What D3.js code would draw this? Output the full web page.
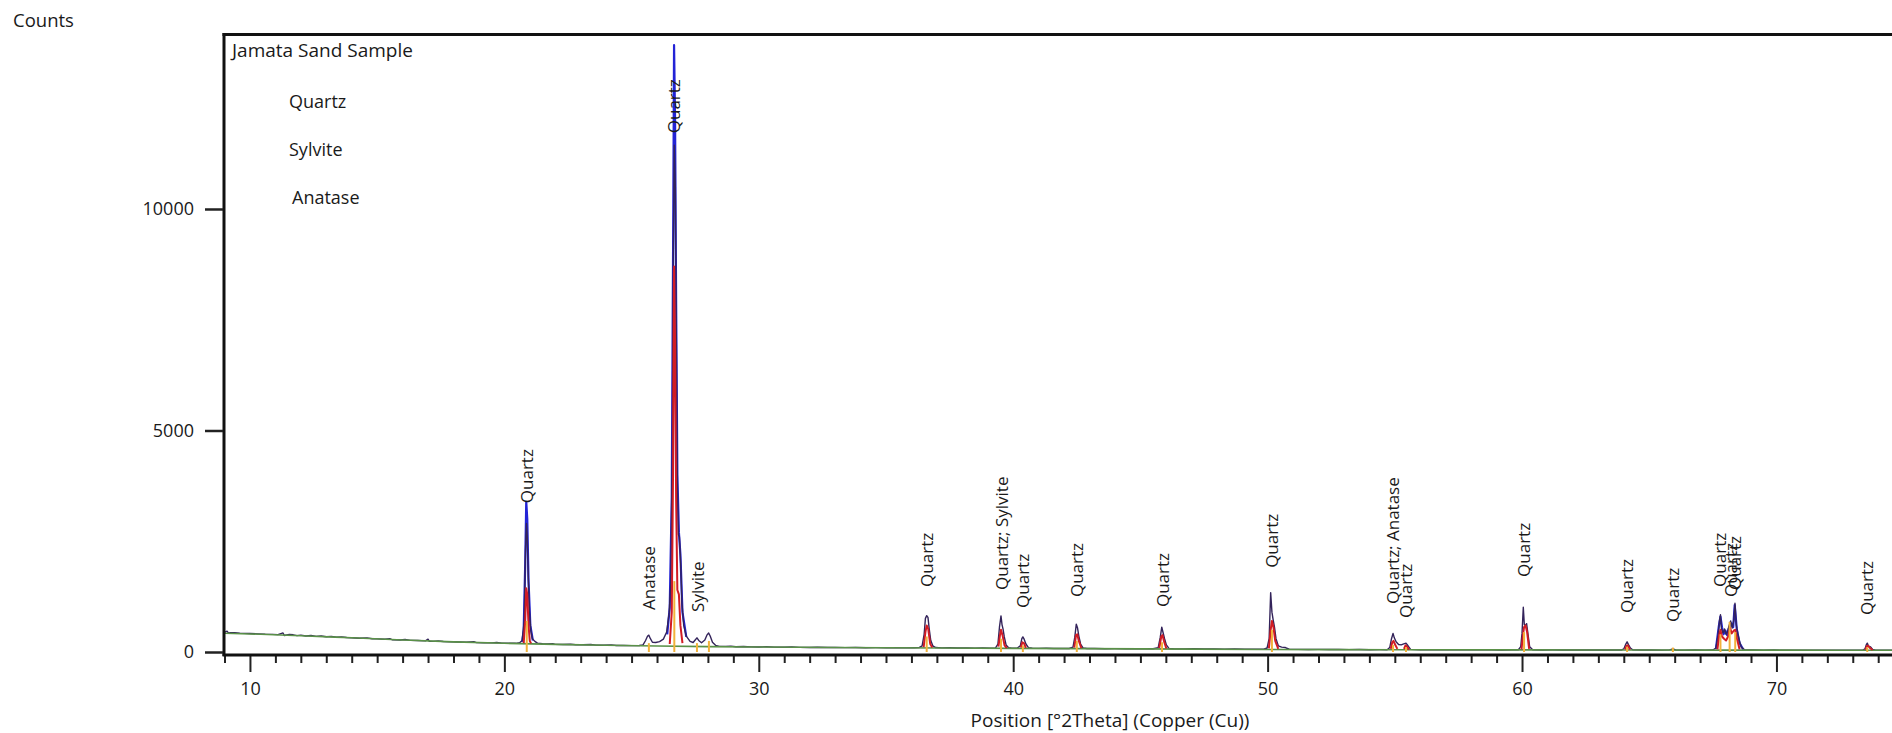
<!DOCTYPE html>
<html><head><meta charset="utf-8">
<script src="https://cdn.jsdelivr.net/npm/d3@7"></script>
<style>
html,body{margin:0;padding:0;background:#fff;overflow:hidden}
svg{display:block}
text{font-family:"Open Sans",sans-serif;fill:#1a1a1a}
</style></head><body>
<svg id="chart" width="1892" height="733"></svg>
<script>
// ---- data ----
const sampleName = "Jamata Sand Sample";
const phaseNames = ["Quartz", "Sylvite", "Anatase"];
const yTicks = [0, 5000, 10000];
const xMajorTicks = [10, 20, 30, 40, 50, 60, 70];

// fitted background [2Theta, counts]
const backgroundPoints = [[8.98,425],[10,408],[12,368],[14,320],[16,272],[18,228],[20,196],[22,172],[24,152],[26,136],[28,122],[30,112],[35,96],[40,82],[45,70],[50,58],[55,52],[60,47],[65,44],[70,42],[75,40]];

// measured scan [2Theta, counts]
const scanPoints = [
 [8.98,440],[9.1,470],[9.15,430],[9.25,436],[9.4,438],[9.6,425],[9.8,420],[10.0,418],[10.3,410],[10.6,402],[10.9,398],[11.1,392],[11.3,430],[11.35,372],[11.55,395],[11.7,388],[11.85,370],[12.0,380],[12.2,362],[12.4,372],[12.6,352],[12.8,360],[13.0,345],[13.2,352],[13.4,336],[13.6,340],[13.8,328],[14.0,322],[14.3,312],[14.6,318],[14.8,298],[15.0,296],[15.3,288],[15.5,300],[15.6,276],[15.9,272],[16.1,282],[16.3,262],[16.6,258],[16.9,252],[17.0,290],[17.05,240],[17.2,240],[17.4,248],[17.6,236],[17.9,230],[18.2,226],[18.5,220],[18.8,232],[18.9,212],[19.2,210],[19.5,205],[19.7,214],[19.9,200],[20.2,198],[20.45,196],
 [20.6,210],[20.7,260],[20.78,700],[20.83,2300],[20.87,2900],[20.9,2600],[20.94,1700],[20.99,900],[21.04,480],[21.1,300],[21.2,240],[21.3,200],
 [21.5,185],[21.7,180],[21.9,190],[22.0,172],[22.3,170],[22.6,176],[22.8,164],[23.1,162],[23.4,168],[23.6,156],[23.9,154],[24.2,160],[24.4,148],[24.7,146],[25.0,145],[25.3,148],
 [25.45,160],[25.55,260],[25.63,360],[25.68,380],[25.74,300],[25.82,220],[25.95,215],[26.1,235],[26.25,290],[26.38,450],[26.48,900],[26.54,1550],[26.6,4500],[26.64,9000],[26.68,11440],[26.72,10500],[26.76,7000],[26.8,3800],[26.84,2650],[26.88,2600],[26.93,2000],[26.98,1100],[27.05,600],[27.15,360],[27.3,240],[27.42,215],[27.5,270],[27.57,320],[27.64,260],[27.75,210],[27.88,270],[27.96,380],[28.03,430],[28.09,360],[28.18,220],[28.3,150],[28.45,128],
 [28.7,126],[28.9,132],[29.1,120],[29.4,124],[29.7,116],[30.0,114],[30.3,118],[30.6,110],[31.0,108],[31.3,112],[31.6,104],[32.0,103],[32.3,106],[32.7,100],[33.0,104],[33.4,98],[33.8,100],[34.2,96],[34.6,98],[35.0,95],[35.4,97],[35.8,93],[36.1,95],[36.3,98],
 [36.42,140],[36.5,400],[36.55,760],[36.6,820],[36.65,780],[36.7,520],[36.76,260],[36.84,140],[36.95,100],
 [37.2,92],[37.5,95],[37.8,90],[38.2,92],[38.5,88],[38.8,90],[39.1,86],[39.3,90],
 [39.4,180],[39.46,560],[39.52,815],[39.56,620],[39.6,520],[39.65,340],[39.72,160],[39.82,95],[39.95,86],
 [40.15,84],[40.28,140],[40.34,300],[40.38,340],[40.43,290],[40.5,180],[40.6,100],[40.75,84],
 [41.0,82],[41.3,84],[41.6,80],[41.9,82],[42.2,79],
 [42.35,110],[42.42,330],[42.48,630],[42.53,540],[42.58,360],[42.65,180],[42.75,90],[42.9,78],
 [43.2,78],[43.6,75],[44.0,76],[44.4,73],[44.8,74],[45.2,72],[45.5,74],
 [45.7,100],[45.78,330],[45.84,560],[45.89,440],[45.95,300],[46.02,160],[46.12,80],[46.3,72],
 [46.7,70],[47.1,72],[47.5,68],[47.9,70],[48.3,66],[48.7,67],[49.1,64],[49.5,65],[49.85,63],
 [49.98,90],[50.06,300],[50.12,1340],[50.17,900],[50.22,720],[50.27,560],[50.33,300],[50.42,140],[50.55,110],[50.7,100],[50.85,62],
 [51.2,60],[51.6,58],[52.0,59],[52.4,56],[52.8,57],[53.2,54],[53.6,55],[54.0,52],[54.4,53],[54.7,52],
 [54.8,100],[54.87,300],[54.93,420],[54.98,320],[55.05,230],[55.15,170],[55.25,160],[55.35,185],[55.44,200],[55.52,140],[55.62,60],
 [56.0,50],[56.4,51],[56.8,49],[57.2,50],[57.6,48],[58.0,49],[58.4,47],[58.8,48],[59.2,46],[59.6,47],[59.85,48],
 [59.95,120],[60.0,420],[60.05,1010],[60.09,620],[60.13,600],[60.18,640],[60.23,420],[60.3,120],[60.42,50],
 [60.8,46],[61.2,47],[61.6,45],[62.0,46],[62.4,44],[62.8,45],[63.2,44],[63.6,45],[63.9,44],
 [64.0,70],[64.08,180],[64.13,230],[64.19,160],[64.26,90],[64.35,50],
 [64.7,44],[65.1,45],[65.5,43],[65.8,48],[65.93,70],[66.05,45],[66.4,43],[66.8,44],[67.2,43],[67.5,45],
 [67.62,90],[67.7,350],[67.76,700],[67.8,840],[67.84,520],[67.9,430],[67.96,520],[68.02,400],[68.08,460],[68.14,600],[68.2,700],[68.26,540],[68.32,700],[68.37,1100],[68.42,620],[68.48,420],[68.54,260],[68.62,110],[68.75,48],
 [69.1,44],[69.5,43],[69.9,44],[70.3,42],[70.7,43],[71.1,42],[71.5,43],[71.9,41],[72.3,42],[72.7,41],[73.1,42],[73.4,42],
 [73.48,70],[73.53,160],[73.57,200],[73.62,130],[73.7,115],[73.78,60],[73.9,42],[74.3,41],[74.7,41],[75.2,40]
];

// calculated profile of the strongest reflections
const strongPeakTraces = [
 [[20.7,230],[20.76,500],[20.82,2000],[20.86,3390],[20.9,3000],[20.95,1600],[21.02,600],[21.12,260]],
 [[26.4,400],[26.5,1000],[26.58,3500],[26.64,10000],[26.67,13700],[26.71,12000],[26.75,8000],[26.8,4000],[26.86,2700],[26.92,2200],[27.0,900],[27.15,340]],
 [[67.62,70],[67.74,600],[67.8,800],[67.86,560],[67.92,400],[68.0,480],[68.06,380],[68.12,520],[68.22,650],[68.3,560],[68.36,1060],[68.44,520],[68.55,200],[68.7,50]]
];

// quartz reference profile, one trace per reflection
const quartzProfiles = [
 [[20.76,200],[20.82,700],[20.86,1440],[20.9,1300],[20.95,600],[21.0,250],[21.05,195]],
 [[26.5,180],[26.58,900],[26.63,4000],[26.67,8700],[26.71,7000],[26.75,3500],[26.8,1400],[26.86,1300],[26.92,600],[27.0,200]],
 [[36.48,110],[36.55,450],[36.6,600],[36.66,520],[36.74,180],[36.82,100]],
 [[39.42,120],[39.48,380],[39.52,500],[39.58,380],[39.66,150],[39.75,90]],
 [[40.3,100],[40.36,220],[40.42,200],[40.5,95]],
 [[42.4,100],[42.47,380],[42.52,400],[42.58,250],[42.68,85]],
 [[45.74,90],[45.82,350],[45.87,380],[45.93,240],[46.02,80]],
 [[50.05,80],[50.12,500],[50.17,700],[50.23,560],[50.3,250],[50.42,70]],
 [[54.84,70],[54.9,220],[54.95,250],[55.0,180],[55.1,70]],
 [[55.36,70],[55.42,150],[55.48,120],[55.56,55]],
 [[59.98,60],[60.04,400],[60.08,560],[60.14,600],[60.2,450],[60.28,70]],
 [[64.05,60],[64.11,140],[64.16,150],[64.24,55]],
 [[67.68,60],[67.75,380],[67.8,500],[67.86,350],[67.94,300],[68.02,260],[68.1,350],[68.18,550],[68.24,420],[68.32,480],[68.38,500],[68.45,300],[68.55,60]],
 [[73.5,50],[73.55,130],[73.6,140],[73.68,90],[73.78,45]]
];

// reference line positions and intensities
const stickAngles = [20.88, 25.68, 26.68, 27.57, 28.04, 36.6, 39.52, 40.38, 42.5, 45.85, 50.17, 54.93, 55.44, 60.08, 64.13, 65.93, 67.8, 68.16, 68.38, 73.57];
const stickCounts = [700, 200, 1600, 200, 250, 350, 300, 150, 250, 220, 500, 160, 110, 450, 120, 100, 400, 680, 450, 110];

// identified peaks: position, phase label, peak-list intensity
const peakAngles = [20.9, 25.7, 26.68, 27.6, 36.6, 39.55, 40.38, 42.5, 45.88, 50.18, 54.93, 55.45, 60.08, 64.13, 65.95, 67.8, 68.22, 68.38, 73.57];
const peakNames = ["Quartz", "Anatase", "Quartz", "Sylvite", "Quartz", "Quartz; Sylvite", "Quartz", "Quartz", "Quartz", "Quartz", "Quartz; Anatase", "Quartz", "Quartz", "Quartz", "Quartz", "Quartz", "Quartz", "Quartz", "Quartz"];
const peakHeights = [2750, 340, 11100, 295, 860, 790, 385, 630, 405, 1290, 475, 160, 1085, 270, 70, 860, 630, 790, 225];

// ---- drawing ----
const svg = d3.select("#chart");
const plotLeft = 224, plotTop = 34.5, plotRight = 1996, baseY = 652;
const x = d3.scaleLinear().domain([8.98, 78.63]).range([plotLeft, plotRight]);
const y = d3.scaleLinear().domain([0, 13950]).range([baseY, 34]);

svg.append("defs").append("clipPath").attr("id", "plotClip")
  .append("rect").attr("x", plotLeft + 1).attr("y", plotTop + 1).attr("width", plotRight - plotLeft).attr("height", 656 - plotTop);

const plot = svg.append("g").attr("clip-path", "url(#plotClip)");
const line = d3.line().x(d => x(d[0])).y(d => y(d[1]));
const smoothLine = d3.line().x(d => x(d[0])).y(d => y(d[1])).curve(d3.curveMonotoneX);

// blue calculated tips (behind the scan)
plot.selectAll("path.strong").data(strongPeakTraces).join("path")
  .attr("class", "strong").attr("d", line)
  .attr("fill", "none").attr("stroke", "#2323d6").attr("stroke-width", 2.2).attr("stroke-linejoin", "round");

// measured scan
plot.append("path").datum(scanPoints).attr("d", line)
  .attr("fill", "none").attr("stroke", "#33235a").attr("stroke-width", 1.4).attr("stroke-linejoin", "round");

// background
plot.append("path").datum(backgroundPoints).attr("d", smoothLine)
  .attr("fill", "none").attr("stroke", "#5a9148").attr("stroke-width", 1.6);

// quartz reference profiles
plot.selectAll("path.quartz").data(quartzProfiles).join("path")
  .attr("class", "quartz").attr("d", line)
  .attr("fill", "none").attr("stroke", "#d21c24").attr("stroke-width", 2).attr("stroke-linejoin", "round");

// reference sticks
plot.selectAll("line.stick").data(stickAngles).join("line")
  .attr("class", "stick")
  .attr("x1", d => x(d)).attr("x2", d => x(d))
  .attr("y1", y(0)).attr("y2", (d, i) => y(stickCounts[i]))
  .attr("stroke", "#f2b23a").attr("stroke-width", 2);

// frame
svg.append("line").attr("x1", plotLeft).attr("x2", plotLeft).attr("y1", plotTop - 1.5).attr("y2", 656)
  .attr("stroke", "#111").attr("stroke-width", 3);
svg.append("line").attr("x1", plotLeft - 1.5).attr("x2", 1900).attr("y1", plotTop).attr("y2", plotTop)
  .attr("stroke", "#111").attr("stroke-width", 3);

// x axis
const xAxisY = 655;
const xMinor = d3.range(9, 79, 1).filter(v => v % 10 !== 0);
svg.append("g").attr("transform", `translate(0,${xAxisY})`)
  .call(d3.axisBottom(x).tickValues(xMinor).tickSize(8).tickFormat(""))
  .call(g => g.select(".domain").remove())
  .call(g => g.selectAll(".tick line").attr("stroke", "#222").attr("stroke-width", 2));
svg.append("g").attr("transform", `translate(0,${xAxisY})`)
  .call(d3.axisBottom(x).tickValues(xMajorTicks).tickSize(17).tickPadding(10).tickFormat(d3.format("d")))
  .call(g => g.select(".domain").remove())
  .call(g => g.selectAll(".tick line").attr("stroke", "#222").attr("stroke-width", 2))
  .call(g => g.selectAll(".tick text").attr("font-size", 18).attr("fill", "#1a1a1a").attr("font-family", "Open Sans"));
svg.append("line").attr("x1", plotLeft - 1.5).attr("x2", 1900).attr("y1", xAxisY).attr("y2", xAxisY)
  .attr("stroke", "#111").attr("stroke-width", 3);

// y axis
svg.append("g").attr("transform", `translate(${plotLeft - 1},0)`)
  .call(d3.axisLeft(y).tickValues(yTicks).tickSize(18).tickPadding(11).tickFormat(d3.format("d")))
  .call(g => g.select(".domain").remove())
  .call(g => g.selectAll(".tick line").attr("stroke", "#222").attr("stroke-width", 2.5))
  .call(g => g.selectAll(".tick text").attr("font-size", 18).attr("fill", "#1a1a1a").attr("font-family", "Open Sans"));

// axis titles
svg.append("text").attr("x", 13).attr("y", 27).attr("font-size", 18.5).text("Counts");
svg.append("text").attr("x", (plotLeft + plotRight) / 2).attr("y", 727).attr("text-anchor", "middle")
  .attr("font-size", 19).text("Position [°2Theta] (Copper (Cu))");

// legend
svg.append("text").attr("x", 232).attr("y", 57).attr("font-size", 19).text(sampleName);
svg.selectAll("text.legend").data(phaseNames).join("text")
  .attr("class", "legend")
  .attr("x", (d, i) => [289, 289, 292][i])
  .attr("y", (d, i) => 108 + i * 48)
  .attr("font-size", 18).text(d => d);

// peak labels
svg.selectAll("text.peak").data(peakAngles).join("text")
  .attr("class", "peak")
  .attr("transform", (d, i) => `translate(${x(d)},${y(peakHeights[i]) - 27}) rotate(-90)`)
  .attr("dy", "0.35em")
  .attr("font-size", 17)
  .text((d, i) => peakNames[i]);
</script></body></html>
